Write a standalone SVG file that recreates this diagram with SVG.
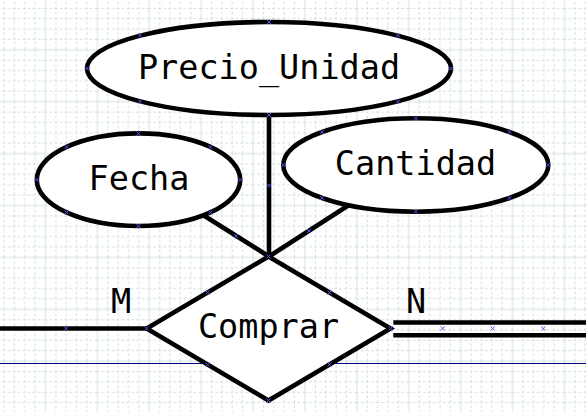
<svg xmlns="http://www.w3.org/2000/svg" xmlns:xlink="http://www.w3.org/1999/xlink" width="586" height="412" viewBox="0 0 586 412">
<style>
.shape{fill:#ffffff;stroke:#000000;stroke-width:4.6}
.conn{fill:none;stroke:#000000;stroke-width:4.6}
.lbl{font-family:"DejaVu Sans Mono","Liberation Mono",monospace;font-size:33.5px;fill:#000000;text-anchor:middle}
.cp{fill:none;stroke:#5555ee;stroke-width:1}
.gmaj{stroke:#d3e2de;stroke-width:1;fill:none}
.gmin{stroke:#d3e2de;stroke-width:1;fill:none;stroke-dasharray:3 2}
</style>
<defs>
<pattern id="grid" patternUnits="userSpaceOnUse" x="-7.4" y="-3.1" width="51.9" height="51.9">
<path class="gmin" d="M11.38,0V51.9M21.76,0V51.9M32.14,0V51.9M42.52,0V51.9M0,11.38H51.9M0,21.76H51.9M0,32.14H51.9M0,42.52H51.9"/>
<path class="gmaj" d="M1,0V51.9M0,1H51.9"/>
</pattern>
<path id="x" d="M-2,-2L2,2M-2,2L2,-2"/>
</defs>
<rect x="0" y="0" width="586" height="412" fill="#ffffff"/>
<rect x="0" y="0" width="586" height="412" fill="url(#grid)"/>
<line x1="0" y1="363.5" x2="586" y2="363.5" stroke="#000080" stroke-width="1"/>
<g id="connectors">
<line class="conn" x1="269" y1="115" x2="269" y2="256.5"/>
<line class="conn" x1="203" y1="215" x2="269" y2="256.5"/>
<line class="conn" x1="349" y1="205" x2="269" y2="256.5"/>
<line class="conn" x1="-15" y1="328.5" x2="146.7" y2="328.5"/>
<line class="conn" x1="393.3" y1="322.5" x2="600" y2="322.5"/>
<line class="conn" x1="393.3" y1="335.2" x2="600" y2="335.2"/>
<text class="lbl" x="121" y="312.5">M</text>
<text class="lbl" x="416" y="312.5">N</text>
</g>
<g id="precio_unidad">
<ellipse class="shape" cx="269" cy="68.5" rx="182" ry="46.5"/>
<text class="lbl" x="269" y="79">Precio_Unidad</text>
</g>
<g id="fecha">
<ellipse class="shape" cx="138.5" cy="179.7" rx="101.7" ry="46.3"/>
<text class="lbl" x="139" y="189.5">Fecha</text>
</g>
<g id="cantidad">
<ellipse class="shape" cx="415.8" cy="165" rx="132.5" ry="46.7"/>
<text class="lbl" x="415.5" y="174.5">Cantidad</text>
</g>
<g id="comprar">
<polygon class="shape" points="146.7,328.5 268.5,256.5 390.5,328.5 268.5,400.5"/>
<text class="lbl" x="268.5" y="337.5">Comprar</text>
</g>
<g id="connection-points" class="cp">
<use xlink:href="#x" x="87" y="68.5"/><use xlink:href="#x" x="140" y="35.5"/><use xlink:href="#x" x="269" y="22"/><use xlink:href="#x" x="398" y="35.5"/><use xlink:href="#x" x="451" y="68.5"/><use xlink:href="#x" x="398" y="101.5"/><use xlink:href="#x" x="269" y="115"/><use xlink:href="#x" x="140" y="101.5"/>
<use xlink:href="#x" x="36.8" y="179.7"/><use xlink:href="#x" x="66.6" y="147"/><use xlink:href="#x" x="138.5" y="133.4"/><use xlink:href="#x" x="210.4" y="147"/><use xlink:href="#x" x="240.2" y="179.7"/><use xlink:href="#x" x="210.4" y="212.4"/><use xlink:href="#x" x="138.5" y="226"/><use xlink:href="#x" x="66.6" y="212.4"/>
<use xlink:href="#x" x="283.3" y="165"/><use xlink:href="#x" x="322.1" y="132"/><use xlink:href="#x" x="415.8" y="118.3"/><use xlink:href="#x" x="509.5" y="132"/><use xlink:href="#x" x="548.3" y="165"/><use xlink:href="#x" x="509.5" y="198"/><use xlink:href="#x" x="415.8" y="211.7"/><use xlink:href="#x" x="322.1" y="198"/>
<use xlink:href="#x" x="146.7" y="328.5"/><use xlink:href="#x" x="207.6" y="292.5"/><use xlink:href="#x" x="268.5" y="256.5"/><use xlink:href="#x" x="329.5" y="292.5"/><use xlink:href="#x" x="390.5" y="328.5"/><use xlink:href="#x" x="329.5" y="364.5"/><use xlink:href="#x" x="268.5" y="400.5"/><use xlink:href="#x" x="207.6" y="364.5"/>
<use xlink:href="#x" x="269" y="185.5"/><use xlink:href="#x" x="236" y="236"/><use xlink:href="#x" x="309" y="231"/><use xlink:href="#x" x="66" y="328.5"/><use xlink:href="#x" x="442.7" y="328.5"/><use xlink:href="#x" x="492.7" y="328.5"/><use xlink:href="#x" x="543.3" y="328.5"/>
</g>
</svg>
